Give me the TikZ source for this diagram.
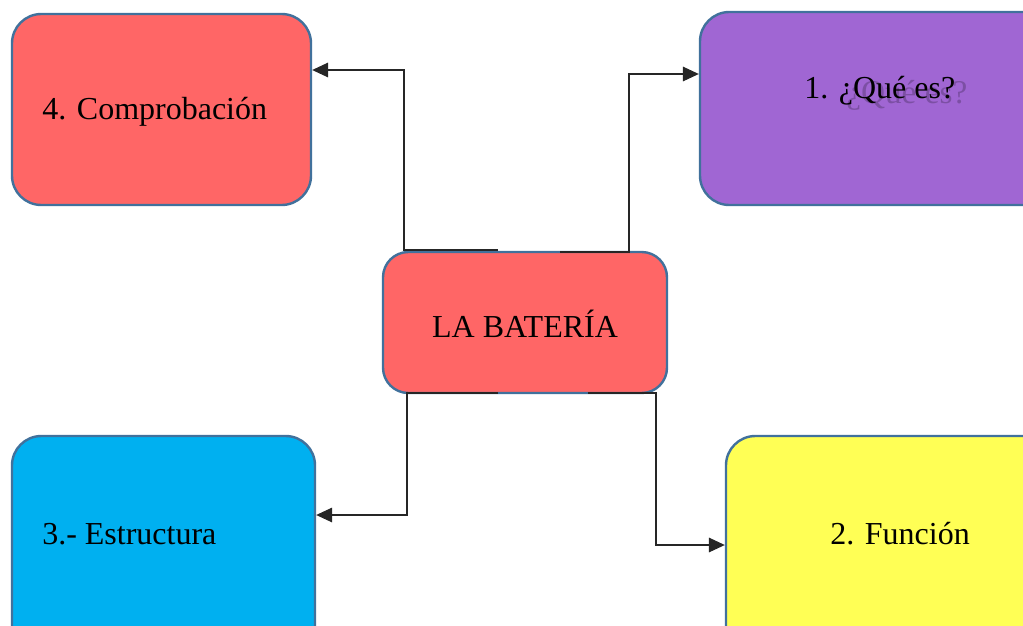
\documentclass[tikz,border=0pt]{standalone}
\usepackage{fontspec}
\setmainfont{Liberation Serif}
\usetikzlibrary{arrows.meta}
\definecolor{boxred}{HTML}{FF6666}
\definecolor{boxpurple}{HTML}{A066D3}
\definecolor{boxblue}{HTML}{00B0F0}
\definecolor{boxyellow}{HTML}{FFFF55}
\definecolor{boxedge}{HTML}{41719C}
\tikzset{
  card/.style={draw=boxedge, line width=1.8pt, rounded corners=22pt, inner sep=0pt},
  lbl/.style={inner sep=0pt, font=\fontsize{24}{28}\selectfont, text=black},
  conn/.style={draw=black!85, line width=0.8pt},
  arr/.style={conn, -{Triangle[length=12pt,width=11pt]}},
}
\begin{document}
\begin{tikzpicture}[x=0.75pt, y=-0.75pt]
\useasboundingbox (0,0) rectangle (1023,625);
\clip (0,0) rectangle (1023,625);
% boxes
\node[card, fill=boxred, minimum width={299*0.75pt}, minimum height={191*0.75pt}] (b4) at (161.5,109.5) {};
\node[card, fill=boxpurple, minimum width={360*0.75pt}, minimum height={193*0.75pt}] (b1) at (880,108.5) {};
\node[card, fill=boxblue, minimum width={303*0.75pt}, minimum height={224*0.75pt}] (b3) at (163.5,548) {};
\node[card, fill=boxyellow, minimum width={334*0.75pt}, minimum height={224*0.75pt}] (b2) at (893,548) {};
\node[card, rounded corners=19pt, fill=boxred, minimum width={284*0.75pt}, minimum height={141*0.75pt}] (c) at (525,322.5) {};
% labels
\node[lbl, anchor=center] (tc) at (525,324) {LA BATERÍA};
\node[lbl, anchor=west] (t4) at (42,112) {4. Comprobación};
\node[lbl, anchor=west] (t3) at (42,534) {3.- Estructura};
\node[lbl, anchor=west] (t2) at (830,534) {2. Función};
\node[lbl, anchor=west, opacity=0.22, scale=1.04] (t1g) at (846,95) {¿Qué es?};
\node[lbl, anchor=west] (t1) at (804,91) {1. ¿Qué es?};
% connector start points on the central box
\coordinate (s4) at (498,250);
\coordinate (s1) at (560,252);
\coordinate (s3) at (498,393);
\coordinate (s2) at (588,393);
\coordinate (e4) at (b4.east |- 0,70);
\coordinate (e1) at (b1.west |- 0,74);
\coordinate (e3) at (b3.east |- 0,515);
\coordinate (e2) at (b2.west |- 0,545);
% connectors
\draw[arr] (s4) -- (404,250) -- (404,70) -- (e4);
\draw[arr] (s1) -- (629,252) -- (629,74) -- (e1);
\draw[arr] (s3) -- (407,393) -- (407,515) -- (e3);
\draw[arr] (s2) -- (656,393) -- (656,545) -- (e2);
\end{tikzpicture}
\end{document}
